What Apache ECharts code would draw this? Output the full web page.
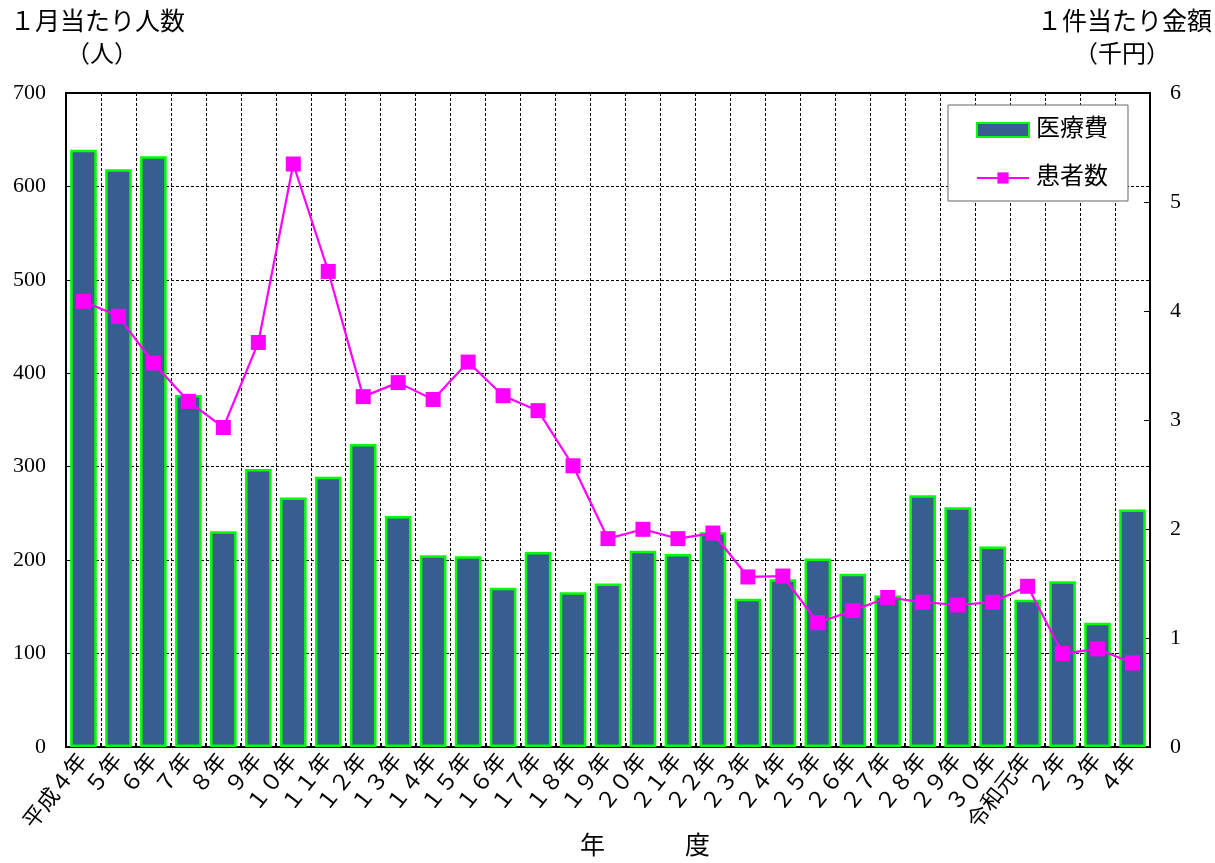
<!DOCTYPE html>
<html><head><meta charset="utf-8">
<script src="https://cdn.jsdelivr.net/npm/echarts@6/dist/echarts.min.js"></script>
<style>html,body{margin:0;padding:0;background:#fff}#c{width:1215px;height:863px}</style>
</head><body><div id="c"></div>
<script>
const categories = ['平成４年','５年','６年','７年','８年','９年','１０年','１１年','１２年','１３年','１４年','１５年','１６年','１７年','１８年','１９年','２０年','２１年','２２年','２３年','２４年','２５年','２６年','２７年','２８年','２９年','３０年','令和元年','２年','３年','４年'];
// 医療費: 1件当たり金額（千円） right axis
const iryohi = [5.48,5.30,5.42,3.23,1.98,2.55,2.29,2.48,2.78,2.12,1.76,1.75,1.46,1.79,1.42,1.50,1.80,1.77,1.97,1.36,1.54,1.73,1.59,1.39,2.31,2.20,1.84,1.35,1.52,1.14,2.18];
// 患者数: 1月当たり人数（人） left axis
const kanja = [477,461,411,370,342,433,624,509,375,390,372,412,376,360,301,223,233,223,229,182,183,133,146,160,155,152,155,172,100,105,90];
const leftTicks = {min:0, max:700, interval:100};
const rightTicks = {min:0, max:6, interval:1};

const serif = '"Liberation Serif","DejaVu Serif","Noto Sans CJK JP",serif';
const chart = echarts.init(document.getElementById('c'));
chart.setOption({
  animation:false,
  textStyle:{fontFamily:serif},
  grid:{left:66, right:65, top:93, bottom:116, show:true, borderColor:'#000', borderWidth:2, backgroundColor:'transparent'},
  legend:{
    orient:'vertical', left:948, top:105, width:194,
    backgroundColor:'#fff', borderColor:'#666', borderWidth:1,
    padding:[13,20,11,28], itemGap:24, itemWidth:52, itemHeight:14,
    textStyle:{fontSize:24, color:'#000', fontFamily:serif, padding:[0,0,0,2]},
    data:[{name:'医療費', icon:'rect'},{name:'患者数'}]
  },
  xAxis:{
    type:'category', data:categories, boundaryGap:true,
    axisLine:{lineStyle:{color:'#000', width:2}},
    axisTick:{show:true, inside:true, length:4, lineStyle:{color:'#000', width:2}},
    splitLine:{show:true, lineStyle:{color:'#000', width:1, type:[3,2]}},
    axisLabel:{rotate:52, fontSize:22, color:'#000', margin:10, interval:0, fontFamily:serif}
  },
  yAxis:[
    {type:'value', position:'left', min:leftTicks.min, max:leftTicks.max, interval:leftTicks.interval,
     axisLine:{show:true, lineStyle:{color:'#000', width:2}},
     axisTick:{show:true, inside:true, length:6, lineStyle:{color:'#000'}},
     splitLine:{show:true, lineStyle:{color:'#000', width:1, type:[3,2]}},
     axisLabel:{fontSize:22, color:'#000', margin:20, fontFamily:serif}},
    {type:'value', position:'right', min:rightTicks.min, max:rightTicks.max, interval:rightTicks.interval,
     axisLine:{show:true, lineStyle:{color:'#000', width:2}},
     axisTick:{show:true, inside:true, length:6, lineStyle:{color:'#000'}},
     splitLine:{show:false},
     axisLabel:{fontSize:22, color:'#000', margin:20, fontFamily:serif}}
  ],
  series:[
    {name:'医療費', type:'bar', yAxisIndex:1, data:iryohi, barCategoryGap:'24%',
     itemStyle:{color:'#365f8f', borderColor:'#00ff00', borderWidth:2.5}},
    {name:'患者数', type:'line', yAxisIndex:0, data:kanja, symbol:'rect', symbolSize:15,
     lineStyle:{color:'#ff00ff', width:2.2}, itemStyle:{color:'#ff00ff'}, z:5}
  ],
  graphic:[
    {type:'text', left:10, top:11, style:{text:'１月当たり人数', fontSize:25, fill:'#000', fontFamily:serif}},
    {type:'text', left:66, top:44, style:{text:'（人）', fontSize:24, fill:'#000', fontFamily:serif}},
    {type:'text', right:3, top:11, style:{text:'１件当たり金額', fontSize:25, fill:'#000', fontFamily:serif}},
    {type:'text', left:1074, top:44, style:{text:'（千円）', fontSize:24, fill:'#000', fontFamily:serif}},
    {type:'text', left:580, top:835, style:{text:'年', fontSize:25, fill:'#000', fontFamily:serif}},
    {type:'text', left:685, top:835, style:{text:'度', fontSize:25, fill:'#000', fontFamily:serif}}
  ]
});
</script></body></html>
